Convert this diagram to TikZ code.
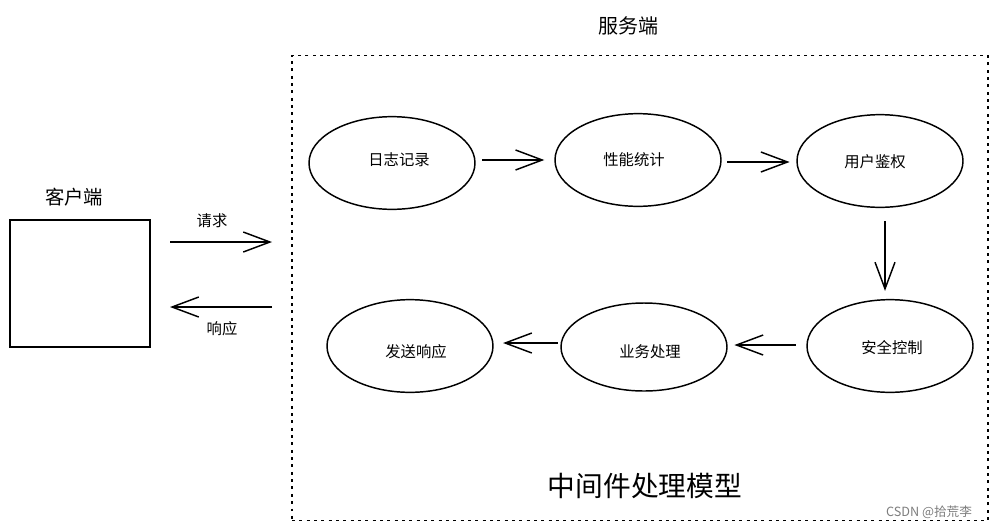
\documentclass[tikz,border=0pt]{standalone}
\usepackage{fontspec}
\setmainfont{Noto Sans CJK SC}
\usetikzlibrary{arrows.meta,shapes.geometric}
\definecolor{wm}{RGB}{125,125,125}
\tikzset{
  ell/.style={draw, ellipse, line width=1.1pt, inner sep=0pt, minimum width=124.5pt, minimum height=69.5pt},
  lbl/.style={font=\fontsize{11.5pt}{14pt}\selectfont},
  arr/.style={line width=1.1pt, -{Straight Barb[length=20pt,width=15pt,line width=1.1pt]}},
  svbox/.style={draw, line width=1pt, dash pattern=on 2.2pt off 3.3pt, inner sep=0pt},
  clbox/.style={draw, line width=1.3pt, inner sep=0pt}
}
\begin{document}
\begin{tikzpicture}[x=0.75pt,y=-0.75pt]
\useasboundingbox (0,0) rectangle (999,529);
% client
\node[clbox, minimum width=105pt, minimum height=95.25pt] (client) at (80,283.5) {};
\node[font=\fontsize{14.5pt}{17pt}\selectfont] (clientlbl) at (74,197) {客户端};
% service box
\node[svbox, minimum width=522pt, minimum height=348.75pt] (server) at (640,288) {};
\node[font=\fontsize{15pt}{18pt}\selectfont] (serverlbl) at (628,26) {服务端};
% request / response
\coordinate (reqS) at (170,242);
\coordinate (reqE) at (272,242);
\coordinate (resS) at (272,307);
\coordinate (resE) at (170,307);
\draw[arr] (reqS) -- (reqE);
\draw[arr] (resS) -- (resE);
\node[lbl] (reqlbl) at (212,221) {请求};
\node[lbl] (reslbl) at (222,329) {响应};
% ellipses
\node[ell] (log) at (392,163) {};
\node[lbl] at (399,160) {日志记录};
\node[ell] (perf) at (638,160) {};
\node[lbl] at (634,160) {性能统计};
\node[ell] (auth) at (880,161) {};
\node[lbl] at (875,162) {用户鉴权};
\node[ell] (sec) at (890,346) {};
\node[lbl] at (892,348) {安全控制};
\node[ell, minimum height=66pt] (biz) at (644,347) {};
\node[lbl] at (650,352) {业务处理};
\node[ell] (send) at (410,346) {};
\node[lbl] at (416,352) {发送响应};
% flow arrows
\draw[arr, shorten <=5pt, shorten >=7.5pt] (log.east |- 0,160) -- (perf.west);
\draw[arr, shorten <=4pt, shorten >=5pt] (perf.east |- 0,162) -- (auth.west |- 0,162);
\draw[arr, shorten <=10pt, shorten >=6pt] (auth.south -| 885,0) -- (sec.north -| 885,0);
\draw[arr, shorten <=8pt, shorten >=5pt] (sec.west |- 0,345) -- (biz.east |- 0,345);
\draw[arr, shorten <=2pt, shorten >=7pt] (biz.west |- 0,343) -- (send.east |- 0,343);
% caption
\node[font=\fontsize{20.8pt}{24pt}\selectfont] (title) at (645,486) {中间件处理模型};
\node[font=\fontsize{9.5pt}{11pt}\selectfont, text=wm] (wmark) at (929,512) {CSDN @拾荒李};
\end{tikzpicture}
\end{document}
